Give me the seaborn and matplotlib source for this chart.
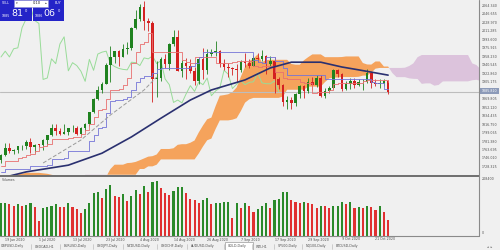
import numpy as np
import matplotlib
matplotlib.use("Agg")
import matplotlib.pyplot as plt
from matplotlib.patches import Rectangle
from matplotlib.lines import Line2D
from matplotlib.transforms import blended_transform_factory as btf
import seaborn as sns

sns.set_style("white")
plt.rcParams["font.family"] = ["DejaVu Sans"]

# ---------------- data (GOLD, Daily, 22 Jun 2020 .. 28 Oct 2020) ----------------
opens = [1743,1754,1768,1761,1764,1771,1772,1781,1769,1775,1774,1784,1795,1809,1803,1798,1802,1809,1809,1797,
         1810,1818,1842,1871,1888,1902,1942,1958,1970,1958,1975,1977,2019,2038,2063,2034,2028,1911,1914,1954,
         1944,1985,2000,1929,1946,1940,1928,1907,1953,1930,1964,1968,1970,1944,1938,1934,1932,1931,1947,1946,
         1940,1956,1954,1960,1944,1950,1912,1900,1863,1868,1862,1881,1898,1886,1906,1900,1914,1877,1887,1893,
         1930,1922,1892,1901,1908,1900,1905,1906,1925,1904,1902,1902,1908]
highs = [1756,1779,1779,1766,1772,1774,1785,1789,1776,1777,1786,1796,1818,1818,1809,1818,1810,1815,1813,1812,
         1820,1843,1872,1898,1905,1945,1981,1971,1973,1984,1990,2020,2055,2069,2075,2040,2033,1949,1958,1964,
         1988,2015,2015,1952,1955,1953,1937,1956,1976,1975,1975,1992,1972,1953,1945,1936,1943,1952,1966,1953,
         1961,1967,1973,1963,1959,1958,1917,1901,1876,1875,1883,1900,1899,1914,1917,1921,1920,1894,1898,1933,
         1933,1925,1907,1913,1913,1912,1912,1932,1926,1911,1911,1911,1910]
lows = [1736,1751,1757,1755,1757,1763,1766,1757,1758,1769,1763,1775,1792,1796,1796,1797,1795,1801,1795,1796,
        1803,1814,1840,1869,1882,1901,1905,1945,1940,1958,1965,1972,2016,2033,2015,2012,1863,1874,1907,1934,
        1930,1980,1929,1916,1912,1925,1900,1901,1911,1922,1960,1960,1936,1930,1916,1920,1906,1926,1937,1935,
        1940,1947,1950,1923,1940,1882,1891,1855,1849,1849,1855,1872,1873,1882,1889,1896,1874,1873,1882,1890,
        1917,1886,1889,1891,1894,1897,1889,1903,1894,1898,1894,1898,1880]
closes = [1754,1768,1761,1764,1771,1772,1781,1769,1775,1774,1784,1795,1809,1803,1798,1802,1809,1809,1797,1810,
          1818,1842,1871,1888,1902,1942,1958,1970,1958,1975,1977,2019,2038,2063,2034,2028,1911,1914,1954,1944,
          1985,2000,1929,1946,1940,1928,1907,1953,1930,1964,1968,1970,1944,1938,1934,1932,1931,1947,1946,1940,
          1956,1954,1960,1944,1950,1912,1900,1863,1868,1862,1881,1898,1886,1906,1900,1914,1877,1887,1893,1930,
          1922,1892,1901,1908,1900,1905,1906,1925,1904,1902,1902,1908,1885.81]
volumes = [114900,114900,113500,105400,112600,105400,109000,117200,100700,52200,
           97100,103100,105400,112600,103100,102000,114900,103100,93600,81800,
           93600,114900,152800,156300,132600,164600,179900,140900,139000,148000,
           124400,140900,162200,148000,176400,156300,191800,192500,168200,152800,
           144500,159900,171700,172500,152800,129100,126700,117200,126700,132600,
           112600,117200,117800,118400,119000,61600,117200,99500,114900,105400,
           85300,93600,105400,114900,97100,126700,129100,153900,154500,126700,
           118400,117200,120800,117200,112600,97100,105400,104800,97100,106600,
           107200,120800,112600,118400,99500,103100,99500,106600,100700,91300,
           105400,85300,55700]
vol_colors = list("ggrrgrggrr" "ggggrrgrrr" "ggggrggrrg" "rggrgrggrr" "rgggrrrrgg" "rggggrgrgr"
                  "rgggrggggr" "rrgrrrgrrg" "ggrgrgrgrr" "grr")
tenkan = [1730,1741.5,1741.5,1741.5,1748,1749.5,1753,1755,1762.5,1770,1772,1775.5,1787.5,1787.5,1787.5,1787.5,
          1788,1790.5,1790.5,1796.5,1806,1819,1833.5,1846.5,1850,1870,1888,1888.5,1892,1899,1915,1944.5,1968.5,
          1985,1990,2007.5,1969,1969,1969,1969,1969,1969,1969,1951.5,1948,1944.5,1957.5,1957.5,1957.5,1957.5,
          1957.5,1946,1946,1946,1946,1946.5,1949,1949,1949,1949,1939,1936.5,1939.5,1939.5,1939.5,1927.5,1927.5,
          1914,1911,1911,1911,1906,1904,1903.5,1883,1885,1885,1885,1888,1902.5,1903,1903,1903,1903,1903,1903,
          1907.5,1909.5,1909.5,1909,1910.5,1910.5,1906]
kijun = [1717.5,1724.5,1724.5,1724.5,1724.5,1724.5,1724.5,1729.5,1729.5,1729.5,1729.5,1733,1744,1744,1744,1747,
         1761,1761,1761,1761,1761,1781.5,1796,1809,1812.5,1840.5,1866,1868,1868,1870.5,1873.5,1888.5,1906,1913.5,
         1919,1919,1925,1933.5,1935,1935,1935,1935,1935,1935,1935.5,1939,1944.5,1957.5,1969,1969,1969,1969,1969,
         1969,1969,1969,1969,1969,1969,1969,1951.5,1948,1944.5,1957.5,1957.5,1948.5,1948.5,1935,1920.5,1920.5,
         1920.5,1920.5,1920.5,1920.5,1920.5,1920.5,1920.5,1911,1911,1911,1911,1911,1911,1911,1911,1911,1911,1911,
         1906,1904,1903.5,1891,1891]
span_a = [1708,1709,1710,1712,1713,1714,1716,1716,1716,1716,1715,1714,1712,1710,1708,1706,1704,1703,1702,1701,
          1700,1700,1700,1702,1704,1708,
          1723.8,1733,1733,1733,1736.3,1737,1738.8,1742.3,1746,1749.8,1750.8,1754.3,1765.8,1765.8,1765.8,1767.3,
          1774.5,1775.8,1775.8,1778.8,1783.5,1800.3,1814.8,1827.8,1831.3,1855.3,1877,1878.3,1880,1884.8,1894.3,
          1916.5,1937.3,1949.3,1954.5,1963.3,1947,1951.3,1952,1952,1952,1952,1952,1943.3,1941.8,1941.8,1951,
          1957.5,1963.3,1963.3,1963.3,1957.5,1957.5,1957.5,1957.5,1957.8,1959,1959,1959,1959,1945.3,1942.3,1942,
          1948.5,1948.5,1938,1938,1924.5,1915.8,1915.8,1915.8,1913.3,1912.3,1912,1901.8,1902.8,1902.8,1898,
          1899.5,1906.8,1907,1907,1907,1907,1907,1907,1909.3,1910.3,1907.8,1906.5,1907,1900.8,1898.5]
span_b = [1608]*8 + [1610]*4 + [1623]*3 + [1666]*5 + [1712]*6 + \
         [1712]*7 + [1724]*2 + [1729.5]*2 + [1733] + [1744]*9 + [1756.5,1771,1784,1787.5,1807.5] + \
         [1825.5]*3 + [1827,1830,1845,1862.5,1869.5] + [1872.5]*7 + [1875.5] + [1889.5]*5 + [1896]*4 + \
         [1905.5,1913,1915,1915] + [1916]*4 + [1916.5,1919,1919,1925,1933.5] + [1935]*6 + [1935.5,1939,1944.5,1957.5] + \
         [1962]*12 + [1944.5,1941] + [1932]*5
ma_idx = [0, 6, 16, 24, 31, 38, 45, 50, 58, 64, 69, 76, 81, 85, 92]
ma_val = [1705, 1718, 1732, 1757, 1791, 1830, 1868, 1889, 1910, 1935, 1947, 1947, 1937, 1931, 1920]
dash_idx = [10, 19, 26, 34, 37]
dash_val = [1736.5, 1784.5, 1836.7, 1889, 1916]
bid, ask = 1885.81, 1886.06
price_labels = ["2064.340","2046.655","2028.970","2011.285","1993.600","1975.915","1958.230","1940.545",
                "1922.860","1905.175","1887.490","1869.805","1852.120","1834.435","1816.750","1799.065",
                "1781.380","1763.695","1746.010","1728.325"]
date_labels = ["19 Jun 2020","1 Jul 2020","13 Jul 2020","23 Jul 2020","4 Aug 2020","14 Aug 2020",
               "26 Aug 2020","7 Sep 2020","17 Sep 2020","29 Sep 2020","9 Oct 2020","21 Oct 2020"]
date_idx = [-1, 7, 15, 23, 31, 39, 47, 55, 63, 71, 79, 87]
tabs = ["GBPUSD,Daily","USDCAD,H1","EURUSD,Daily","USDJPY,Daily","NZDUSD,Daily","USDCHF,Daily",
        "AUDUSD,Daily","GOLD,Daily","WTI,H1","SP500,Daily","NQ100,Daily","BTCUSD,Daily"]
tab_x = [1, 35, 64, 97, 127, 161, 191, 228, 256, 278, 306, 336]

# ---------------- styling ----------------
W, H = 500, 250
BG = "#f0f0f0"
GREEN, RED = "#1f821f", "#d42020"
VGREEN, VRED = "#2a8a2a", "#e03030"
ORANGE, THISTLE = "#f5a35c", "#dcc3dc"
TXT = "#505050"

fig = plt.figure(figsize=(5, 2.5), dpi=100, facecolor=BG)
fx = lambda x: x / W
fy = lambda y: 1 - y / H

X0, X1 = -0.24, 113.6
P_TOP, P_BOT = 2076.87, 1709.38
axp = fig.add_axes([0, fy(176), fx(479), fy(0) - fy(176)])
axv = fig.add_axes([0, fy(235.7), fx(479), fy(177) - fy(235.7)])
for ax in (axp, axv):
    ax.set_facecolor(BG)
    for s in ax.spines.values():
        s.set_visible(False)

o, h, l, c = map(np.array, (opens, highs, lows, closes))
idx = np.arange(len(c))

# cloud
sa, sb = np.array(span_a), np.array(span_b)
ic = np.arange(len(sa))
axp.fill_between(ic, sa, sb, where=sa >= sb, interpolate=True, color=ORANGE, lw=0, zorder=1)
axp.fill_between(ic, sa, sb, where=sa < sb, interpolate=True, color=THISTLE, lw=0, zorder=1)

# bid line
axp.axhline(bid, color="#bdbdbd", lw=0.8, zorder=1.5)

# candles
up = c >= o
cc = np.where(up, GREEN, RED)
axp.vlines(idx, l, h, colors=cc, lw=0.6, zorder=3)
body = np.maximum(np.abs(c - o), 1.6)
axp.bar(idx, body, bottom=np.minimum(o, c), width=0.62, color=cc, lw=0, zorder=3)

# indicator lines
sns.lineplot(x=idx[26:] - 26, y=c[26:], ax=axp, color="#98dc98", lw=0.7, zorder=2)
sns.lineplot(x=idx, y=tenkan, ax=axp, color="#e87070", lw=0.6, zorder=4, drawstyle="steps-post")
sns.lineplot(x=idx, y=kijun, ax=axp, color="#7474d8", lw=0.6, zorder=4, drawstyle="steps-post")
sns.lineplot(x=dash_idx, y=dash_val, ax=axp, color="#9a9a9a", lw=0.7, zorder=4, linestyle=(0, (4, 2)))
sns.lineplot(x=ma_idx, y=ma_val, ax=axp, color="#2a3070", lw=1.2, zorder=4)

# volumes
vcols = [VGREEN if k == "g" else VRED for k in vol_colors]
axv.bar(idx, volumes, width=0.5, color=vcols, lw=0, zorder=3)

for ax in (axp, axv):
    ax.set_xlim(X0, X1)
    ax.set_xticks([]); ax.set_yticks([])
    ax.set_xlabel(""); ax.set_ylabel("")
axp.set_ylim(P_BOT, P_TOP)
axv.set_ylim(0, 208400)

# frame lines
fig.add_artist(Line2D([0, fx(479)], [fy(176), fy(176)], color="#6e6e6e", lw=1.4))
fig.add_artist(Line2D([0, fx(479)], [fy(235.7), fy(235.7)], color="#8a8a8a", lw=0.8))
fig.add_artist(Line2D([fx(479), fx(479)], [fy(0), fy(235.7)], color="#8a8a8a", lw=0.8))

# price scale labels
tp = btf(fig.transFigure, axp.transData)
for lab in price_labels:
    v = float(lab)
    if abs(v - bid) < 8:
        continue
    fig.text(fx(482), v, lab, transform=tp, fontsize=2.3, color=TXT, va="center", ha="left")
bx = Rectangle((fx(480), fy(94)), fx(19), fy(88) - fy(94), transform=fig.transFigure,
               facecolor="#8c9ab8", edgecolor="none")
fig.add_artist(bx)
fig.text(fx(482), fy(91), "1885.810", fontsize=2.3, color="white", va="center", ha="left")

# volume scale labels
fig.text(fx(482), fy(179), "208400", fontsize=2.3, color=TXT, va="center", ha="left")
fig.text(fx(482), fy(233), "0", fontsize=2.3, color=TXT, va="center", ha="left")
fig.text(fx(2), fy(180), "Volumes", fontsize=2.3, color=TXT, va="center", ha="left")

# date labels
td = btf(axv.transData, fig.transFigure)
for i, lab in zip(date_idx, date_labels):
    fig.text(i + 2.0, fy(239.5), lab, transform=td, fontsize=2.3, color=TXT, va="center", ha="left")

# tabs
for t, x in zip(tabs, tab_x):
    if t == "GOLD,Daily":
        fig.add_artist(Rectangle((fx(x - 3), fy(250)), fx(28), fy(242) - fy(250), transform=fig.transFigure,
                                 facecolor="white", edgecolor="#9a9a9a", lw=0.5))
    fig.text(fx(x), fy(246.5), t, fontsize=2.3, color=TXT, va="center", ha="left")
    fig.add_artist(Line2D([fx(x - 4), fx(x - 4)], [fy(243.5), fy(249)], color="#b0b0b0", lw=0.4))
fig.text(fx(487), fy(246.5), "◂  ▸", fontsize=2.3, color=TXT, va="center", ha="left")

# one-click trading panel
BLUE = "#2424c8"
fig.add_artist(Rectangle((0, fy(21)), fx(31.5), fy(0) - fy(21), transform=fig.transFigure, facecolor=BLUE, edgecolor="none"))
fig.add_artist(Rectangle((fx(32.5), fy(21)), fx(31.5), fy(0) - fy(21), transform=fig.transFigure, facecolor=BLUE, edgecolor="none"))
fig.add_artist(Rectangle((fx(14), fy(7)), fx(34), fy(0) - fy(7), transform=fig.transFigure, facecolor="white", edgecolor="#9090d0", lw=0.4))
fig.text(fx(2), fy(3.5), "SELL", fontsize=2.3, color="white", va="center", ha="left")
fig.text(fx(55), fy(3.5), "BUY", fontsize=2.3, color="white", va="center", ha="left")
fig.text(fx(16), fy(3.5), "▾", fontsize=2.5, color="#404040", va="center", ha="left")
fig.text(fx(33), fy(3.5), "0.10", fontsize=2.6, color="#202020", va="center", ha="left")
fig.text(fx(45), fy(3.5), "▴", fontsize=2.5, color="#404040", va="center", ha="left")
fig.text(fx(2), fy(16), "1885", fontsize=2.3, color="white", va="center", ha="left")
fig.text(fx(11), fy(14), "81", fontsize=6.8, color="white", va="center", ha="left")
fig.text(fx(25), fy(10.5), "0", fontsize=2.6, color="white", va="center", ha="left")
fig.text(fx(34.5), fy(16), "1886", fontsize=2.3, color="white", va="center", ha="left")
fig.text(fx(43.5), fy(14), "06", fontsize=6.8, color="white", va="center", ha="left")
fig.text(fx(57.5), fy(10.5), "0", fontsize=2.6, color="white", va="center", ha="left")

fig.savefig("out.png", dpi=100, facecolor=BG)
